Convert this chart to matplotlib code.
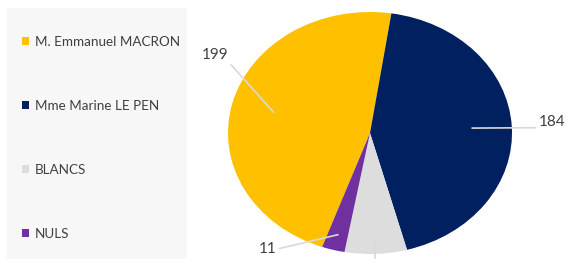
import matplotlib as mpl
mpl.use('Agg')
import matplotlib.pyplot as plt
from matplotlib.patches import Rectangle, Patch
import numpy as np

# data
labels = ['M. Emmanuel MACRON', 'Mme Marine LE PEN', 'BLANCS', 'NULS']
votes = [199, 184, 30, 11]
colors = ['#FFC000', '#002060', '#DDDDDD', '#7030A0']

plt.rcParams['font.family'] = ['Lato', 'DejaVu Sans']

W, H = 566, 259
fig = plt.figure(figsize=(W / 100, H / 100), dpi=100)

# legend panel on the left
fig.patches.append(Rectangle((7 / W, 0), 180 / W, 1 - 8 / H, transform=fig.transFigure,
                             facecolor='#f7f7f7', edgecolor='none', zorder=0))

handles = [Patch(facecolor=c, edgecolor='none') for c in colors]
fig.legend(handles, labels, loc='upper left', bbox_to_anchor=(9.5 / W, 1 - 24 / H),
           frameon=False, fontsize=9.7, labelspacing=3.85, handlelength=0.55,
           handleheight=0.55, handletextpad=0.45, labelcolor='#404040')

# pie, stretched into an ellipse
ax = fig.add_axes([228 / W, 1 - 254 / H, 284 / W, 242 / H])
wedges, _ = ax.pie(votes, colors=colors, startangle=250.3, counterclock=False,
                   radius=1, center=(0, 0))
ax.set_aspect('auto')
ax.set_xlim(-1, 1)
ax.set_ylim(-1, 1)
ax.axis('off')

# data labels with leader lines
anchor_r = [0.7, 0.72, 0.9, 0.87]
text_pos = [(-1.09, 0.645), (1.28, 0.09), None, (-0.72, -0.96)]
relpos = [(1, 0), (0, 0.1), None, (1, 0.5)]
for w, v, r, tp, rp in zip(wedges, votes, anchor_r, text_pos, relpos):
  ang = np.deg2rad((w.theta1 + w.theta2) / 2)
  x0, y0 = r * np.cos(ang), r * np.sin(ang)
  if tp is None:
    # BLANCS label lies below the visible area: only its leader shows
    ax.plot([x0, x0], [y0, -1.3], color='#d9d9d9', lw=1.2, clip_on=False)
    continue
  ax.annotate(str(v), xy=(x0, y0), xytext=tp,
              ha='center', va='center', fontsize=11, color='#404040',
              annotation_clip=False,
              arrowprops=dict(arrowstyle='-', color='#d9d9d9', lw=1.2,
                              shrinkA=0, shrinkB=0, relpos=rp))

plt.savefig('out.png', dpi=100)
